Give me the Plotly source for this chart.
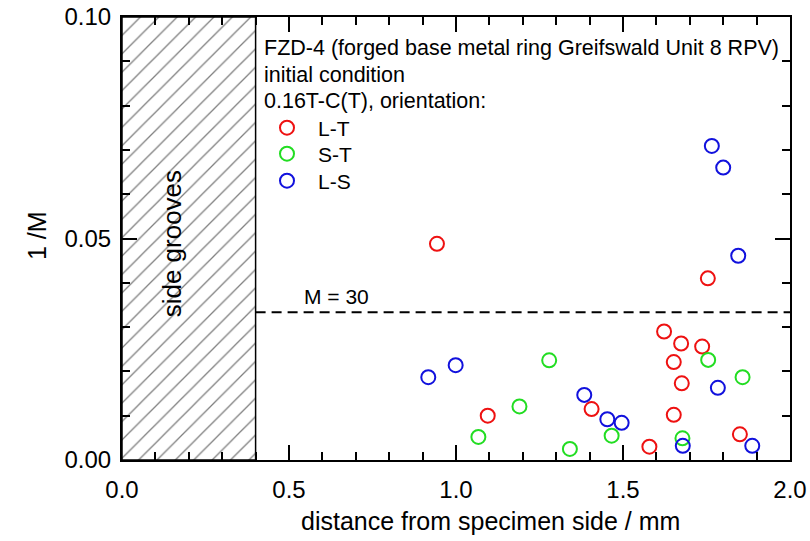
import plotly.graph_objects as go

# ---- data ----
lt_x = [0.943, 1.095, 1.406, 1.579, 1.623, 1.674, 1.737, 1.652, 1.676, 1.652, 1.850, 1.754]
lt_y = [0.0488, 0.0100, 0.0115, 0.0030, 0.0290, 0.0263, 0.0256, 0.0221, 0.0173, 0.0102, 0.0058, 0.0410]

st_x = [1.067, 1.190, 1.279, 1.341, 1.466, 1.678, 1.755, 1.858]
st_y = [0.0052, 0.0121, 0.0225, 0.0025, 0.0055, 0.0049, 0.0226, 0.0187]

ls_x = [0.917, 0.999, 1.384, 1.453, 1.496, 1.784, 1.679, 1.887, 1.766, 1.800, 1.845]
ls_y = [0.0187, 0.0214, 0.0147, 0.0092, 0.0084, 0.0163, 0.0032, 0.0032, 0.0709, 0.0660, 0.0461]

groove_x = [0.0, 0.4, 0.4, 0.0, 0.0]
groove_y = [0.0, 0.0, 0.1, 0.1, 0.0]
m_limit = 30
x_ticks = [0.0, 0.5, 1.0, 1.5, 2.0]
y_ticks = [0.00, 0.05, 0.10]
header_lines = ["FZD-4 (forged base metal ring Greifswald Unit 8 RPV)",
                "initial condition",
                "0.16T-C(T), orientation:"]
x_title = "distance from specimen side / mm"
y_title = "1 /M"

FONT = "Liberation Sans, Arial, sans-serif"

fig = go.Figure()

# hatched side-groove region
fig.add_trace(go.Scatter(
    x=groove_x, y=groove_y, mode="lines", fill="toself",
    line=dict(color="black", width=1.5),
    fillcolor="white",
    fillpattern=dict(shape="/", fgcolor="black", bgcolor="white", size=13, solidity=0.1),
    showlegend=False, hoverinfo="skip"))

# M = 30 line
fig.add_trace(go.Scatter(
    x=[0.4, 2.0], y=[1 / m_limit, 1 / m_limit], mode="lines",
    line=dict(color="black", width=2, dash="10px,6px"),
    showlegend=False, hoverinfo="skip"))

mk = dict(symbol="circle-open", size=14, line=dict(width=2))
fig.add_trace(go.Scatter(x=lt_x, y=lt_y, mode="markers", name="L-T",
                         marker=dict(mk, color="#ee1111"), legend="legend"))
fig.add_trace(go.Scatter(x=st_x, y=st_y, mode="markers", name="S-T",
                         marker=dict(mk, color="#22dd22"), legend="legend2"))
fig.add_trace(go.Scatter(x=ls_x, y=ls_y, mode="markers", name="L-S",
                         marker=dict(mk, color="#1111dd"), legend="legend3"))

L, R, T, B = 122, 20, 17, 81
W, H = 810, 541
ph = H - T - B
pw = W - L - R


def py(pix):
    # pixel row -> paper y
    return (H - B - pix) / ph


def px(pix):
    return (pix - L) / pw


leg_common = dict(bgcolor="rgba(0,0,0,0)", borderwidth=0,
                  font=dict(family=FONT, size=21, color="black"),
                  xanchor="left", yanchor="middle", itemwidth=52)
fig.update_layout(
    legend=dict(leg_common, x=px(256), y=py(128)),
    legend2=dict(leg_common, x=px(256), y=py(154)),
    legend3=dict(leg_common, x=px(256), y=py(181)),
)

annotations = []
for i, line in enumerate(header_lines):
    annotations.append(dict(text=line, xref="paper", yref="paper",
                            x=px(262), y=py(48 + i * 26.6), xanchor="left", yanchor="middle",
                            showarrow=False, font=dict(family=FONT, size=21.5, color="black")))
annotations.append(dict(text="M = 30", x=0.54, y=0.0369, xanchor="left", yanchor="middle",
                        showarrow=False, font=dict(family=FONT, size=21, color="black")))
annotations.append(dict(text="side grooves", x=0.15, y=0.0487, textangle=-90,
                        showarrow=False, font=dict(family=FONT, size=26, color="black")))
annotations.append(dict(text=x_title, xref="paper", yref="paper", x=px(490.5), y=py(521),
                        xanchor="center", yanchor="middle", showarrow=False,
                        font=dict(family=FONT, size=25, color="black")))
annotations.append(dict(text=y_title, xref="paper", yref="paper", x=px(37), y=py(236),
                        xanchor="center", yanchor="middle", textangle=-90, showarrow=False,
                        font=dict(family=FONT, size=25, color="black")))

axis_common = dict(showgrid=False, zeroline=False, showline=True, linecolor="black",
                   linewidth=2, mirror="allticks", ticks="inside", ticklen=15,
                   tickwidth=1.5, tickcolor="black", automargin=False,
                   tickfont=dict(family=FONT, size=24, color="black"))

fig.update_layout(
    width=W, height=H,
    margin=dict(l=L, r=R, t=T, b=B),
    paper_bgcolor="white", plot_bgcolor="white",
    annotations=annotations,
    xaxis=dict(axis_common, range=[0, 2.0], tickvals=x_ticks,
               ticktext=[f"{v:.1f}" for v in x_ticks], ticklabelstandoff=7,
               minor=dict(dtick=0.1, ticklen=8, ticks="inside", tickwidth=1.5, tickcolor="black")),
    yaxis=dict(axis_common, range=[0, 0.1], tickvals=y_ticks,
               ticktext=[f"{v:.2f}" for v in y_ticks], ticklabelstandoff=4,
               minor=dict(dtick=0.01, ticklen=8, ticks="inside", tickwidth=1.5, tickcolor="black")),
)

fig.write_html("out.html")
